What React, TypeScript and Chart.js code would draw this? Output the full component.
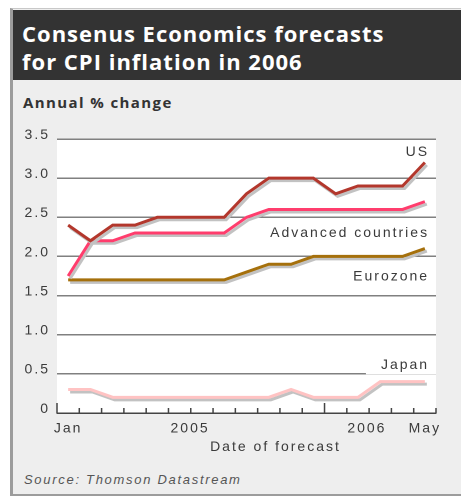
import React, { useEffect, useRef } from "react";
import { Chart, registerables } from "chart.js";

Chart.register(...registerables);

// ---------- data ----------
const months = [
  "Jan 05", "Feb 05", "Mar 05", "Apr 05", "May 05", "Jun 05", "Jul 05", "Aug 05",
  "Sep 05", "Oct 05", "Nov 05", "Dec 05", "Jan 06", "Feb 06", "Mar 06", "Apr 06", "May 06",
];
const usValues = [2.4, 2.2, 2.4, 2.4, 2.5, 2.5, 2.5, 2.5, 2.8, 3.0, 3.0, 3.0, 2.8, 2.9, 2.9, 2.9, 3.2];
const advancedValues = [1.75, 2.2, 2.2, 2.3, 2.3, 2.3, 2.3, 2.3, 2.5, 2.6, 2.6, 2.6, 2.6, 2.6, 2.6, 2.6, 2.7];
const eurozoneValues = [1.7, 1.7, 1.7, 1.7, 1.7, 1.7, 1.7, 1.7, 1.8, 1.9, 1.9, 2.0, 2.0, 2.0, 2.0, 2.0, 2.1];
const japanValues = [0.3, 0.3, 0.2, 0.2, 0.2, 0.2, 0.2, 0.2, 0.2, 0.2, 0.3, 0.2, 0.2, 0.2, 0.4, 0.4, 0.4];
const seriesNames = ["US", "Advanced countries", "Eurozone", "Japan"];
const xTickLabels = ["Jan", "2005", "2006", "May"];
const yMin = 0;
const yMax = 3.5;
const yStep = 0.5;

// ---------- style / placement ----------
const seriesColors = ["#b3372c", "#ff3d6d", "#a5700c", "#ffc3c3"];
const xTickPositions = [0.5, 5.97, 13.9, 16.5];
const labelYValues = [3.33, 2.3, 1.74, 0.61];
const labelRightX = 16.6;
const TEXT = "#3a3a3a";
const FONT = '"Liberation Sans", Arial, sans-serif';

const seriesValues = [usValues, advancedValues, eurozoneValues, japanValues];

const decorPlugin = {
  id: "decor",
  beforeUpdate(chart: any) {
    chart.ctx.letterSpacing = "2px";
  },
  beforeDraw(chart: any) {
    const { ctx, chartArea: a } = chart;
    ctx.letterSpacing = "2px";
    ctx.save();
    ctx.fillStyle = "#ffffff";
    ctx.fillRect(a.left, a.top, a.right - a.left, a.bottom - a.top);
    ctx.restore();
  },
  beforeDatasetsDraw(chart: any) {
    const { ctx, chartArea: a, scales } = chart;
    ctx.save();
    ctx.font = `14px ${FONT}`;
    ctx.textAlign = "right";
    ctx.textBaseline = "middle";
    seriesNames.forEach((name, i) => {
      const right = scales.x.getPixelForValue(labelRightX);
      const y = scales.y.getPixelForValue(labelYValues[i]);
      const w = ctx.measureText(name).width;
      ctx.fillStyle = "#ffffff";
      ctx.fillRect(right - w - 13, y - 9, a.right - (right - w - 13), 18);
      ctx.fillStyle = TEXT;
      ctx.fillText(name, right + 2, y);
    });
    ctx.restore();
    ctx.save();
    ctx.shadowColor = "#c2c2c2";
    ctx.shadowOffsetX = 4;
    ctx.shadowOffsetY = 5;
    ctx.shadowBlur = 0.5;
  },
  afterDatasetsDraw(chart: any) {
    chart.ctx.restore();
  },
  afterDraw(chart: any) {
    const { ctx, chartArea: a, scales } = chart;
    ctx.save();
    ctx.strokeStyle = "#444444";
    ctx.lineWidth = 1.5;
    ctx.beginPath();
    for (let b = 0; b <= months.length; b++) {
      const px = scales.x.getPixelForValue(b);
      const tall = b === 0 || (b < months.length && b > 0 && months[b].startsWith("Jan"));
      ctx.moveTo(px, a.bottom);
      ctx.lineTo(px, a.bottom - (tall ? 10 : 5));
    }
    ctx.stroke();
    ctx.font = `14px ${FONT}`;
    ctx.fillStyle = TEXT;
    ctx.textAlign = "center";
    ctx.textBaseline = "middle";
    ctx.fillText("Date of forecast", scales.x.getPixelForValue(9.8), a.bottom + 34);
    ctx.restore();
  },
};

export default function App() {
  const ref = useRef<HTMLCanvasElement | null>(null);

  useEffect(() => {
    if (!ref.current) return;
    const chart = new Chart(ref.current, {
      type: "line",
      data: {
        datasets: seriesValues.map((vals, i) => ({
          label: seriesNames[i],
          data: vals.map((v, k) => ({ x: k + 0.5, y: v })),
          borderColor: seriesColors[i],
          borderWidth: 3,
          pointRadius: 0,
          fill: false,
          tension: 0,
          borderJoinStyle: "miter" as const,
        })),
      },
      options: {
        animation: false,
        responsive: false,
        devicePixelRatio: 2,
        layout: { padding: { top: 139, right: 25, left: 0, bottom: 0 } },
        plugins: {
          legend: { display: false },
          tooltip: { enabled: false },
          title: { display: false },
        },
        scales: {
          x: {
            type: "linear",
            min: 0,
            max: months.length,
            afterFit: (s: any) => {
              s.height = 85;
            },
            afterBuildTicks: (s: any) => {
              s.ticks = xTickPositions.map((v) => ({ value: v }));
            },
            grid: { display: false, drawTicks: false },
            border: { display: true, color: "#444444", width: 1.5 },
            ticks: {
              autoSkip: false,
              maxRotation: 0,
              padding: 7,
              color: TEXT,
              font: { family: FONT, size: 14 },
              callback: (v: any) => {
                const idx = xTickPositions.indexOf(v);
                return idx >= 0 ? xTickLabels[idx] : "";
              },
            },
          },
          y: {
            type: "linear",
            min: yMin,
            max: yMax,
            afterFit: (s: any) => {
              s.width = 57;
            },
            grid: {
              drawTicks: false,
              lineWidth: 1.5,
              color: (c: any) => (c.tick && c.tick.value === 0 ? "rgba(0,0,0,0)" : "#808080"),
            },
            border: { display: false },
            ticks: {
              stepSize: yStep,
              padding: 7,
              labelOffset: -4,
              color: TEXT,
              font: { family: FONT, size: 14 },
              callback: (v: any) => (v === 0 ? "0" : Number(v).toFixed(1)),
            },
          },
        },
      },
      plugins: [decorPlugin],
    } as any);
    return () => chart.destroy();
  }, []);

  return (
    <div
      style={{
        position: "absolute",
        left: 0,
        top: 0,
        width: 461,
        height: 498,
        background: "#ffffff",
        overflow: "hidden",
      }}
    >
      <div
        style={{
          position: "absolute",
          left: 10,
          top: 8,
          width: 451,
          height: 488,
          background: "#eeeeee",
          borderLeft: "3px solid #9c9c9c",
          borderBottom: "2px solid #9c9c9c",
          borderTop: "1px solid #c8c8c8",
          boxSizing: "border-box",
        }}
      />
      <div
        style={{
          position: "absolute",
          left: 13,
          top: 10,
          width: 448,
          height: 70,
          background: "#333333",
        }}
      />
      <div
        style={{
          position: "absolute",
          left: 22,
          top: 19,
          color: "#ffffff",
          fontFamily: '"Open Sans", sans-serif',
          fontWeight: 700,
          fontSize: 22,
          lineHeight: "28px",
          letterSpacing: "1px",
          whiteSpace: "nowrap",
        }}
      >
        Consenus Economics forecasts
        <br />
        for CPI inflation in 2006
      </div>
      <div
        style={{
          position: "absolute",
          left: 23,
          top: 95,
          color: "#333333",
          fontFamily: '"Open Sans", sans-serif',
          fontWeight: 700,
          fontSize: 15,
          lineHeight: "15px",
          letterSpacing: "1.4px",
          whiteSpace: "nowrap",
        }}
      >
        Annual % change
      </div>
      <div
        style={{
          position: "absolute",
          left: 24,
          top: 473,
          color: "#555555",
          fontFamily: FONT,
          fontStyle: "italic",
          fontSize: 13,
          lineHeight: "14px",
          letterSpacing: "1.7px",
          whiteSpace: "nowrap",
        }}
      >
        Source: Thomson Datastream
      </div>
      <canvas
        ref={ref}
        width={461}
        height={498}
        style={{ position: "absolute", left: 0, top: 0, width: 461, height: 498 }}
      />
    </div>
  );
}
